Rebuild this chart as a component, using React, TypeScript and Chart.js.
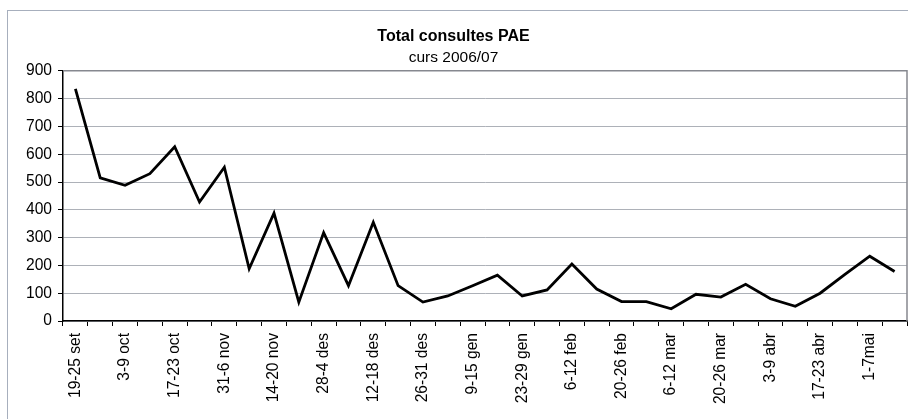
import React, { useEffect, useRef } from "react";
import { Chart, registerables } from "chart.js";

Chart.register(...registerables);

const TITLE = "Total consultes PAE";
const SUBTITLE = "curs 2006/07";

const weekLabels: string[] = [
  "19-25 set", "", "3-9 oct", "", "17-23 oct", "", "31-6 nov", "",
  "14-20 nov", "", "28-4 des", "", "12-18 des", "", "26-31 des", "",
  "9-15 gen", "", "23-29 gen", "", "6-12 feb", "", "20-26 feb", "",
  "6-12 mar", "", "20-26 mar", "", "3-9 abr", "", "17-23 abr", "",
  "1-7mai", "",
];

const consultes: number[] = [
  835, 515, 488, 530, 627, 428, 553, 188, 388, 68,
  318, 127, 355, 127, 68, 90, 127, 165, 90, 112,
  205, 115, 70, 70, 44, 96, 86, 132, 80, 53,
  100, 168, 233, 178,
];

const yTicks = { min: 0, max: 900, step: 100 };

const FONT = "'Liberation Sans', Arial, sans-serif";

const framePlugin = {
  id: "frames",
  beforeDraw(chart: any) {
    const ctx = chart.ctx;
    ctx.save();
    ctx.fillStyle = "#ffffff";
    ctx.fillRect(0, 0, chart.width, chart.height);
    ctx.strokeStyle = "#a7afbd";
    ctx.lineWidth = 1;
    ctx.strokeRect(7.5, 10.5, chart.width + 10, chart.height + 10);
    ctx.restore();
  },
  beforeDatasetsDraw(chart: any) {
    const { ctx, chartArea } = chart;
    ctx.save();
    ctx.strokeStyle = "#86888f";
    ctx.lineWidth = 1.5;
    ctx.beginPath();
    ctx.moveTo(chartArea.left, chartArea.top);
    ctx.lineTo(chartArea.right, chartArea.top);
    ctx.lineTo(chartArea.right, chartArea.bottom);
    ctx.stroke();
    ctx.restore();
  },
};

export default function App() {
  const ref = useRef<HTMLCanvasElement | null>(null);
  useEffect(() => {
    if (!ref.current) return;
    const chart = new Chart(ref.current, {
      type: "line",
      data: {
        labels: weekLabels,
        datasets: [
          {
            data: consultes,
            borderColor: "#000000",
            borderWidth: 2.8,
            pointRadius: 0,
            tension: 0,
            fill: false,
          },
        ],
      },
      options: {
        animation: false,
        responsive: false,
        layout: { padding: { left: 0, right: 1, top: 0, bottom: 0 } },
        plugins: {
          legend: { display: false },
          tooltip: { enabled: false },
          title: {
            display: true,
            text: TITLE,
            color: "#000",
            font: { family: FONT, size: 16, weight: "bold", lineHeight: 1.2 },
            padding: { top: 27, bottom: 2 },
          },
          subtitle: {
            display: true,
            text: SUBTITLE,
            color: "#000",
            font: { family: FONT, size: 15.5, weight: "normal", lineHeight: 1.2 },
            padding: { top: 0, bottom: 4 },
          },
        },
        scales: {
          x: {
            type: "category",
            offset: true,
            grid: {
              display: true,
              drawOnChartArea: false,
              drawTicks: true,
              tickLength: 5,
              offset: true,
              color: "#000",
              lineWidth: 1,
            },
            border: { display: true, color: "#000", width: 1.5 },
            ticks: {
              autoSkip: false,
              maxRotation: 90,
              minRotation: 90,
              padding: 7,
              color: "#000",
              font: { family: FONT, size: 15.6 },
            },
            afterFit(scale: any) {
              scale.height = 98;
              scale.paddingLeft = 0;
              scale.paddingRight = 0;
            },
          },
          y: {
            min: yTicks.min,
            max: yTicks.max,
            grid: {
              color: "#adb1b8",
              lineWidth: 1,
              drawTicks: true,
              tickLength: 5,
              tickColor: "#000",
            },
            border: { display: true, color: "#000", width: 1.5 },
            ticks: {
              stepSize: yTicks.step,
              padding: 6,
              color: "#000",
              font: { family: FONT, size: 15.6 },
            },
            afterFit(scale: any) {
              scale.width = 63;
            },
          },
        },
      },
      plugins: [framePlugin],
    });
    return () => chart.destroy();
  }, []);
  return (
    <div style={{ position: "absolute", left: 0, top: 0, width: 908, height: 419 }}>
      <canvas ref={ref} width={908} height={419} />
    </div>
  );
}
